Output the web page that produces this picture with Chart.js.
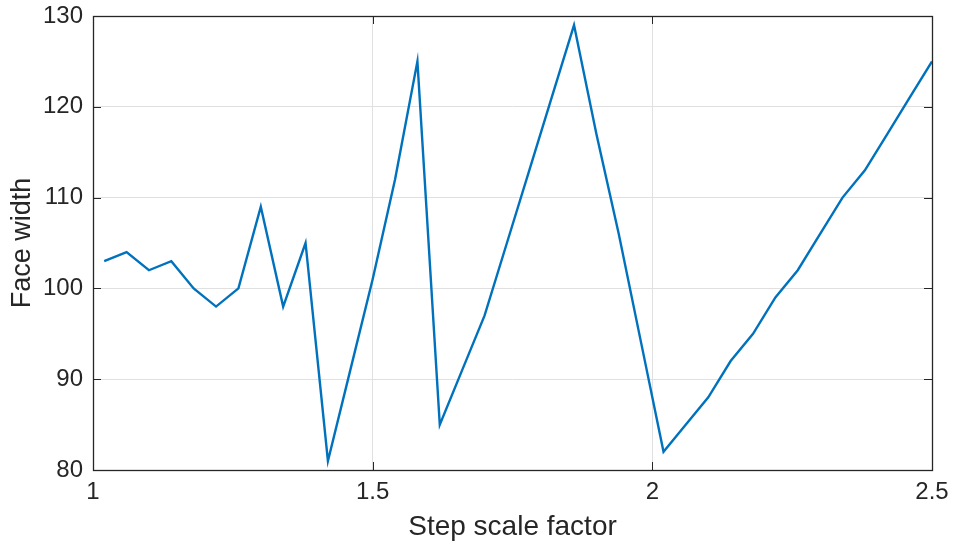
<!DOCTYPE html>
<html>
<head>
<meta charset="utf-8">
<title>Face width vs step scale factor</title>
<script src="https://cdn.jsdelivr.net/npm/chart.js@4/dist/chart.umd.min.js"></script>
<style>
    html, body { margin: 0; padding: 0; background: #fff; }
    #wrap { width: 953px; height: 549px; }
</style>
</head>
<body>
<div id="wrap"><canvas id="face-chart"></canvas></div>
<script>
// data
const stepFactors = [1.02, 1.06, 1.10, 1.14, 1.18, 1.22, 1.26, 1.30, 1.34, 1.38,
    1.42, 1.46, 1.50, 1.54, 1.58, 1.62, 1.66, 1.70, 1.74, 1.78,
    1.82, 1.86, 1.90, 1.94, 1.98, 2.02, 2.06, 2.10, 2.14, 2.18,
    2.22, 2.26, 2.30, 2.34, 2.38, 2.42, 2.46, 2.50];
const faceWidths = [103, 104, 102, 103, 100, 98, 100, 109, 98, 105,
    81, 91, 101, 112, 125, 85, 91, 97, 105, 113,
    121, 129, 117, 106, 94, 82, 85, 88, 92, 95,
    99, 102, 106, 110, 113, 117, 121, 125];
const xTicks = [1, 1.5, 2, 2.5];
const yTicks = [80, 90, 100, 110, 120, 130];

const axisColor = '#262626';
const gridColor = '#e0e0e0';
const fontFamily = '"Liberation Sans", Arial, Helvetica, sans-serif';

// matlab style box with inward ticks on all four sides
const boxPlugin = {
    id: 'boxAxes',
    afterDatasetsDraw(chart) {
        const { ctx, chartArea: a, scales: { x, y } } = chart;
        const len = 8;
        ctx.save();
        ctx.strokeStyle = axisColor;
        ctx.lineWidth = 1;
        ctx.beginPath();
        xTicks.forEach(v => {
            const px = Math.round(x.getPixelForValue(v)) + 0.5;
            ctx.moveTo(px, a.bottom); ctx.lineTo(px, a.bottom - len);
            ctx.moveTo(px, a.top); ctx.lineTo(px, a.top + len);
        });
        yTicks.forEach(v => {
            const py = Math.round(y.getPixelForValue(v)) + 0.5;
            ctx.moveTo(a.left, py); ctx.lineTo(a.left + len, py);
            ctx.moveTo(a.right, py); ctx.lineTo(a.right - len, py);
        });
        ctx.stroke();
        ctx.lineWidth = 1.3;
        ctx.strokeRect(Math.round(a.left) + 0.5, Math.round(a.top) + 0.5,
            Math.round(a.width), Math.round(a.height));
        ctx.restore();
    }
};

window.addEventListener('DOMContentLoaded', () => {
    const ctx = document.getElementById('face-chart').getContext('2d');
    new Chart(ctx, {
        type: 'line',
        data: {
            datasets: [{
                data: stepFactors.map((s, i) => ({ x: s, y: faceWidths[i] })),
                borderColor: '#0072BD',
                borderWidth: 2.4,
                pointRadius: 0,
                tension: 0,
                fill: false
            }]
        },
        options: {
            responsive: true,
            maintainAspectRatio: false,
            devicePixelRatio: 1,
            animation: false,
            layout: { padding: { top: 16, right: 21, left: 0, bottom: 0 } },
            plugins: {
                legend: { display: false },
                tooltip: { enabled: false }
            },
            scales: {
                x: {
                    type: 'linear',
                    min: 1,
                    max: 2.5,
                    afterBuildTicks: s => { s.ticks = xTicks.map(v => ({ value: v })); },
                    afterFit: s => {
                        s.height = 79;
                        s.paddingLeft = 0;
                        s.paddingRight = 0;
                    },
                    grid: { color: gridColor, drawTicks: false },
                    border: { display: false },
                    ticks: {
                        padding: 8,
                        color: axisColor,
                        font: { family: fontFamily, size: 24 },
                        maxRotation: 0,
                        callback: v => String(v)
                    },
                    title: {
                        display: true,
                        text: 'Step scale factor',
                        color: axisColor,
                        font: { family: fontFamily, size: 28 },
                        padding: { top: 0, bottom: 5 }
                    }
                },
                y: {
                    min: 80,
                    max: 130,
                    afterBuildTicks: s => { s.ticks = yTicks.map(v => ({ value: v })); },
                    afterFit: s => {
                        s.width = 93;
                        s.paddingTop = 0;
                        s.paddingBottom = 0;
                    },
                    grid: { color: gridColor, drawTicks: false },
                    border: { display: false },
                    ticks: {
                        padding: 10,
                        color: axisColor,
                        font: { family: fontFamily, size: 24 }
                    },
                    title: {
                        display: true,
                        text: 'Face width',
                        color: axisColor,
                        font: { family: fontFamily, size: 27 },
                        padding: { top: 6, bottom: 0 }
                    }
                }
            }
        },
        plugins: [boxPlugin]
    });
});
</script>
</body>
</html>
